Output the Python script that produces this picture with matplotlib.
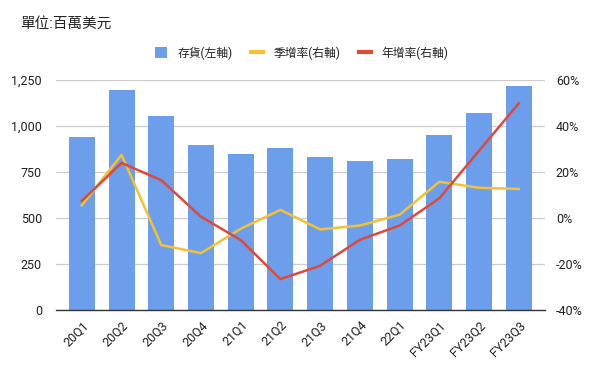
import matplotlib
matplotlib.use("Agg")
import matplotlib.pyplot as plt
from matplotlib.ticker import FuncFormatter
from matplotlib.lines import Line2D
from matplotlib.patches import Patch

plt.rcParams['font.family'] = ['Roboto', 'Noto Sans CJK TC', 'DejaVu Sans']

quarters = ["20Q1", "20Q2", "20Q3", "20Q4", "21Q1", "21Q2", "21Q3", "21Q4",
            "22Q1", "FY23Q1", "FY23Q2", "FY23Q3"]
inventory = [939, 1196, 1054, 895, 848, 879, 835, 810, 821, 951, 1074, 1217]
qoq = [5.6, 27.5, -11.7, -15.2, -4.6, 3.6, -4.9, -3.2, 1.5, 15.8, 13.2, 12.7]
yoy = [7.5, 24.0, 16.5, 0.6, -9.5, -26.5, -20.7, -9.4, -3.2, 8.6, 29.3, 49.9]

left_ticks = [0, 250, 500, 750, 1000, 1250]
right_ticks = [-40, -20, 0, 20, 40, 60]

bar_color = '#6d9eeb'
qoq_color = '#f1c232'
yoy_color = '#dc4a3c'
text_color = '#222222'

fig = plt.figure(figsize=(6, 3.71), dpi=100)
ax = fig.add_axes([0.093, 0.164, 0.815, 0.62])
ax2 = ax.twinx()

x = list(range(len(quarters)))
ax.bar(x, inventory, width=0.655, color=bar_color, zorder=2)
ax.set_ylim(0, 1250)
ax.set_yticks(left_ticks)
ax.yaxis.set_major_formatter(FuncFormatter(lambda v, p: f"{int(v):,}"))
ax.set_xlim(-0.655, len(quarters) - 0.345)
ax.set_xticks(x)
ax.set_xticklabels(quarters, rotation=45, ha='right', va='top',
                   rotation_mode='anchor', fontsize=8.5, color=text_color)
ax.grid(axis='y', color='#cccccc', linewidth=0.9, zorder=0)
ax.set_axisbelow(True)
ax.tick_params(axis='both', length=0, labelsize=9, colors=text_color)
ax.tick_params(axis='y', pad=10)
ax.tick_params(axis='x', pad=6)
for s in ['top', 'right', 'left']:
    ax.spines[s].set_visible(False)
ax.spines['bottom'].set_color('#333333')
ax.spines['bottom'].set_linewidth(1.0)
ax.spines['bottom'].set_zorder(5)

ax2.plot(x, qoq, color=qoq_color, linewidth=1.8, zorder=3)
ax2.plot(x, yoy, color=yoy_color, linewidth=1.8, zorder=4)
ax2.set_ylim(-40, 60)
ax2.set_yticks(right_ticks)
ax2.yaxis.set_major_formatter(FuncFormatter(lambda v, p: f"{int(v)}%"))
ax2.tick_params(axis='y', length=0, labelsize=9, colors=text_color, pad=8)
for s in ['top', 'right', 'left', 'bottom']:
    ax2.spines[s].set_visible(False)

fig.text(0.033, 0.935, "單位:百萬美元", fontsize=10.5, color=text_color,
         va='center', ha='left')

handles = [Patch(facecolor=bar_color, edgecolor='none'),
           Line2D([0], [0], color=qoq_color, linewidth=3),
           Line2D([0], [0], color=yoy_color, linewidth=3)]
labels = ["存貨(左軸)", "季增率(右軸)", "年增率(右軸)"]
fig.legend(handles, labels, loc='center', bbox_to_anchor=(0.503, 0.857),
           ncol=3, frameon=False, fontsize=8.5, handlelength=1.0,
           handleheight=1.0, columnspacing=1.6, handletextpad=0.9,
           labelcolor=text_color)

fig.savefig("out.png", dpi=100)
